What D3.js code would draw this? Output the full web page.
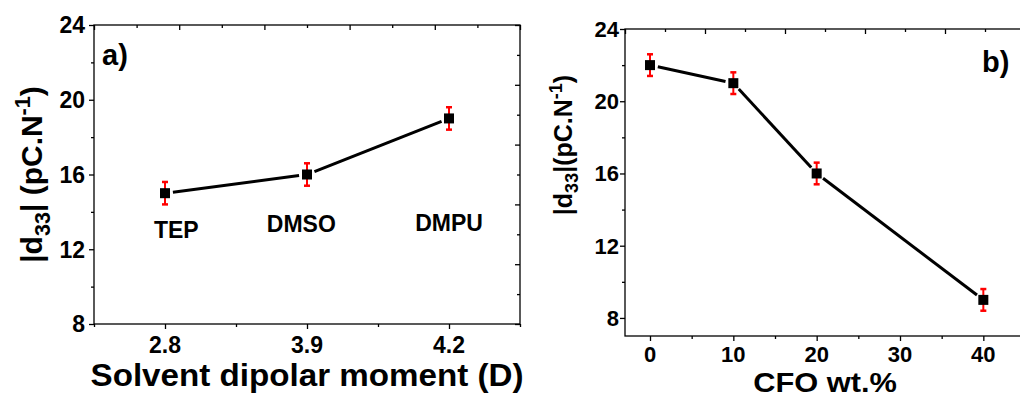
<!DOCTYPE html>
<html>
<head>
<meta charset="utf-8">
<script src="https://cdn.jsdelivr.net/npm/d3@7/dist/d3.min.js"></script>
<style>
  html, body { margin: 0; padding: 0; background: #fff; }
  svg { display: block; }
  text { font-family: "Liberation Sans", Arial, Helvetica, sans-serif; font-weight: bold; fill: #000; }
</style>
</head>
<body>
<svg id="chart" width="1020" height="397"></svg>
<script>
// ---- Data: panel a ----
const aCategories = ["2.8", "3.9", "4.2"];          // solvent dipolar moment (D)
const aSolvents = ["TEP", "DMSO", "DMPU"];
const aValues = [15, 16, 19];                        // |d33| (pC/N)
const aErrors = [0.6, 0.6, 0.6];
const aYTicks = [8, 12, 16, 20, 24];
const aYMinor = [10, 14, 18, 22];
// annotation anchors (data coords: category index offset, value)
const aLabelX = [0.08, -0.04, 0];
const aLabelY = [12.6, 12.9, 13.0];

// ---- Data: panel b ----
const bX = [0, 10, 20, 40];                          // CFO wt.%
const bValues = [22, 21, 16, 9];
const bErrors = [0.6, 0.6, 0.6, 0.6];
const bXTicks = [0, 10, 20, 30, 40];
const bXMinor = [5, 15, 25, 35];
const bYTicks = [8, 12, 16, 20, 24];
const bYMinor = [10, 14, 18, 22];

const svg = d3.select("#chart");

function frame(g, x0, x1, y0, y1) {
  g.append("rect").attr("x", x0).attr("y", y0).attr("width", x1 - x0).attr("height", y1 - y0)
    .attr("fill", "none").attr("stroke", "#000").attr("stroke-width", 1.3);
}

// tick marks only (labels are drawn separately)
function ticks(g, axis, tx, ty) {
  const s = g.append("g").attr("transform", `translate(${tx},${ty})`).call(axis.tickFormat(""));
  s.select(".domain").remove();
  s.selectAll(".tick text").remove();
  s.selectAll(".tick line").attr("stroke", "#000").attr("stroke-width", 1.3);
  return s;
}

function xLabels(g, scale, vals, fmt, baseY, fs) {
  g.selectAll(null).data(vals).enter().append("text")
    .attr("x", d => scale(d)).attr("y", baseY)
    .attr("text-anchor", "middle").style("font-size", fs + "px")
    .text(fmt);
}
function yLabels(g, scale, vals, rightX, fs) {
  g.selectAll(null).data(vals).enter().append("text")
    .attr("x", rightX).attr("y", d => scale(d) + fs * 0.36)
    .attr("text-anchor", "end").style("font-size", fs + "px")
    .text(d => d);
}

function yTitle(g, cx, cy, fs, withSpace) {
  const t = g.append("text")
    .attr("transform", `translate(${cx},${cy}) rotate(-90)`)
    .attr("text-anchor", "middle").style("font-size", fs + "px");
  t.append("tspan").text("|d");
  t.append("tspan").style("font-size", (fs * 0.72) + "px").attr("dy", fs * 0.25).text("33");
  t.append("tspan").attr("dy", -fs * 0.25).text(withSpace ? "| (pC.N" : "|(pC.N");
  t.append("tspan").style("font-size", (fs * 0.72) + "px").attr("dy", -fs * 0.4).text("-1");
  t.append("tspan").attr("dy", fs * 0.4).text(")");
}

function series(g, x, y, xs, vs, es) {
  const pts = xs.map((xv, i) => [x(xv), y(vs[i])]);
  const gap = 8;
  for (let i = 0; i < pts.length - 1; i++) {
    const [x1, y1] = pts[i], [x2, y2] = pts[i + 1];
    const len = Math.hypot(x2 - x1, y2 - y1);
    const ux = (x2 - x1) / len, uy = (y2 - y1) / len;
    g.append("line")
      .attr("x1", x1 + ux * gap).attr("y1", y1 + uy * gap)
      .attr("x2", x2 - ux * gap).attr("y2", y2 - uy * gap)
      .attr("stroke", "#000").attr("stroke-width", 3);
  }
  xs.forEach((xv, i) => {
    const px = x(xv), top = y(vs[i] + es[i]), bot = y(vs[i] - es[i]);
    g.append("line").attr("x1", px).attr("x2", px).attr("y1", top).attr("y2", bot)
      .attr("stroke", "#ff0000").attr("stroke-width", 2);
    [top, bot].forEach(yy => g.append("line").attr("x1", px - 3).attr("x2", px + 3)
      .attr("y1", yy).attr("y2", yy).attr("stroke", "#ff0000").attr("stroke-width", 2.5));
  });
  g.selectAll(null).data(xs).enter().append("rect")
    .attr("x", (d) => x(d) - 5).attr("y", (d, i) => y(vs[i]) - 5)
    .attr("width", 10).attr("height", 10).attr("fill", "#000");
}

// ================= Panel a =================
{
  const L = 94, R = 520, T = 25, B = 324;
  const x = d3.scaleLinear().domain([-0.5, 2.5]).range([L, R]);
  const y = d3.scaleLinear().domain([8, 24]).range([B, T]);
  const g = svg.append("g");

  ticks(g, d3.axisBottom(x).tickValues([0, 1, 2]).tickSize(5), 0, B);
  ticks(g, d3.axisBottom(x).tickValues([-0.5, 0.5, 1.5, 2.5]).tickSize(3), 0, B);
  ticks(g, d3.axisLeft(y).tickValues(aYTicks).tickSize(5), L, 0);
  ticks(g, d3.axisLeft(y).tickValues(aYMinor).tickSize(3), L, 0);

  // mirrored top / right axes (independent divisions as in the original)
  const xt = d3.scaleLinear().domain([0, 10]).range([L, R]);
  ticks(g, d3.axisBottom(xt).tickValues([0, 2, 4, 6, 8, 10]).tickSize(5), 0, T);
  ticks(g, d3.axisBottom(xt).tickValues([1, 3, 5, 7, 9]).tickSize(3), 0, T);
  const yr = d3.scaleLinear().domain([0, 10]).range([B, T]);
  ticks(g, d3.axisLeft(yr).tickValues([0, 2, 4, 6, 8, 10]).tickSize(5), R, 0);
  ticks(g, d3.axisLeft(yr).tickValues([1, 3, 5, 7, 9]).tickSize(3), R, 0);

  frame(g, L, R, T, B);

  xLabels(g, x, [0, 1, 2], i => aCategories[i], 353, 23);
  yLabels(g, y, aYTicks, 85, 23);

  series(g, x, y, [0, 1, 2], aValues, aErrors);

  g.selectAll(".solv").data(aSolvents).enter().append("text")
    .attr("class", "solv")
    .attr("x", (d, i) => x(i + aLabelX[i])).attr("y", (d, i) => y(aLabelY[i]))
    .attr("text-anchor", "middle").style("font-size", "23px").text(d => d);

  g.append("text").attr("x", 102).attr("y", 65).style("font-size", "29px").text("a)");

  yTitle(g, 42, (T + B) / 2, 30, true);
  g.append("text").attr("transform", `translate(${(L + R) / 2},386) scale(1.07,1)`)
    .attr("text-anchor", "middle").style("font-size", "31px").text("Solvent dipolar moment (D)");
}

// ================= Panel b =================
{
  const L = 625, R = 1025, T = 29, B = 336;
  const x = d3.scaleLinear().domain([-3, 45]).range([L, R]);
  const y = d3.scaleLinear().domain([7, 24]).range([B, T]);
  const g = svg.append("g");

  ticks(g, d3.axisBottom(x).tickValues(bXTicks).tickSize(5), 0, B);
  ticks(g, d3.axisBottom(x).tickValues(bXMinor).tickSize(3), 0, B);
  ticks(g, d3.axisLeft(y).tickValues(bYTicks).tickSize(5), L, 0);
  ticks(g, d3.axisLeft(y).tickValues(bYMinor).tickSize(3), L, 0);

  const xt = d3.scaleLinear().domain([0, 10]).range([L, R]);
  ticks(g, d3.axisBottom(xt).tickValues([0, 2, 4, 6, 8, 10]).tickSize(5), 0, T);
  ticks(g, d3.axisBottom(xt).tickValues([1, 3, 5, 7, 9]).tickSize(3), 0, T);

  frame(g, L, R, T, B);

  xLabels(g, x, bXTicks, d => d, 362, 22);
  yLabels(g, y, bYTicks, 619, 22);

  series(g, x, y, bX, bValues, bErrors);

  g.append("text").attr("x", 982).attr("y", 72).style("font-size", "29px").text("b)");

  yTitle(g, 572, 145, 25, false);
  g.append("text").attr("transform", "translate(825,392) scale(1.1,1)").attr("text-anchor", "middle")
    .style("font-size", "28px").text("CFO wt.%");
}
</script>
</body>
</html>
